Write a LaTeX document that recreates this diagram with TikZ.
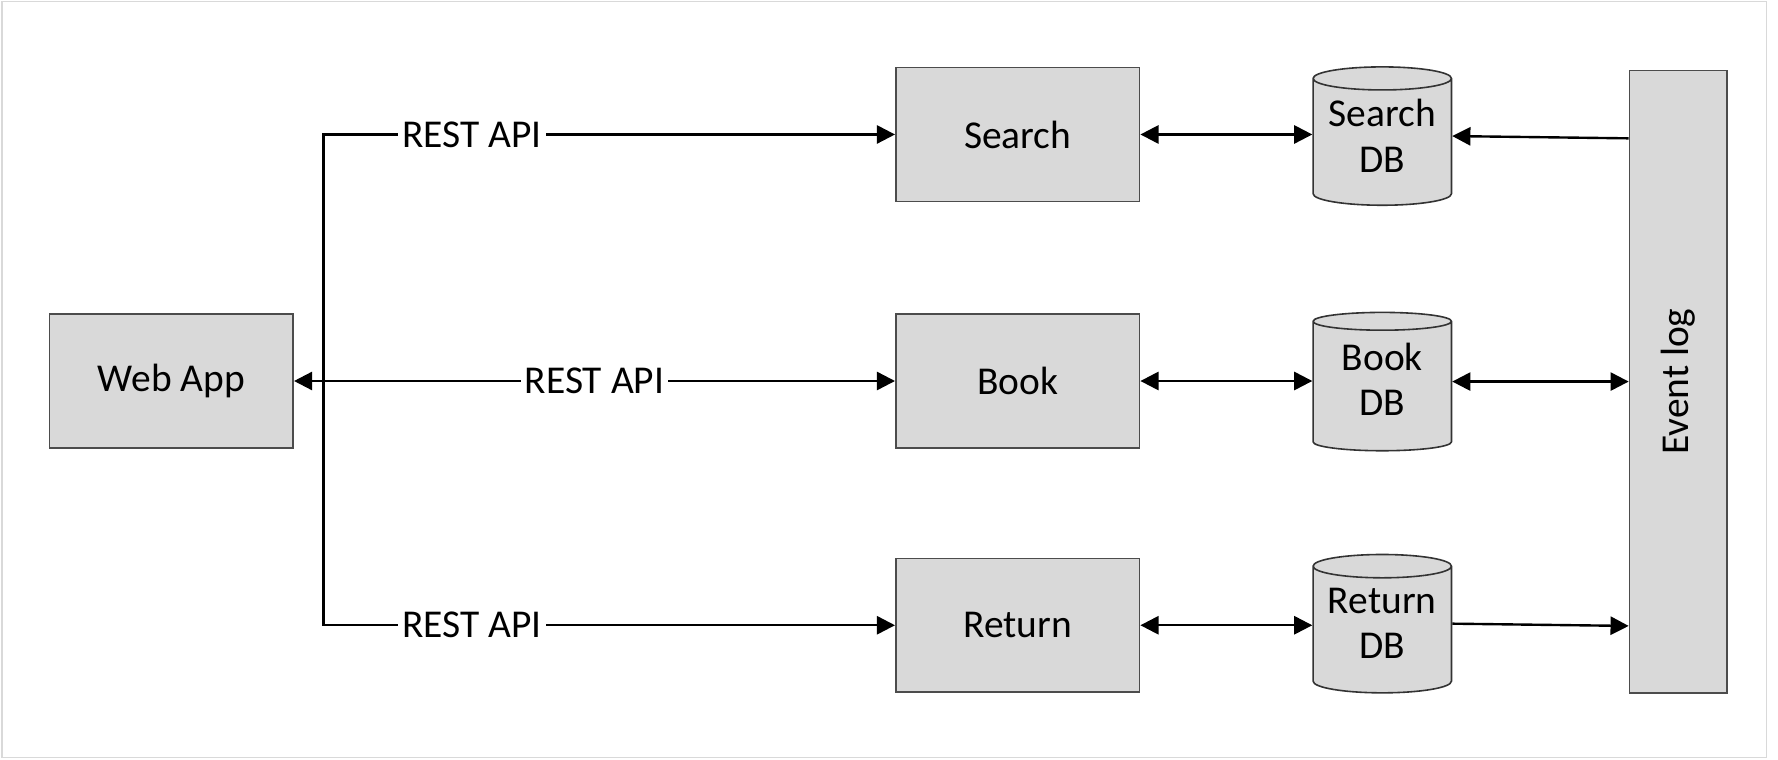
\documentclass[tikz,border=0pt]{standalone}
\usepackage{fontspec}
\setmainfont{Carlito}
\usetikzlibrary{positioning,shapes.geometric,arrows.meta}

\begin{document}
\begin{tikzpicture}[
    >={Triangle[length=1.6mm,width=1.6mm]},
    font=\fontsize{9.9}{11.4}\selectfont,
    box/.style={rectangle, draw=black!70, fill=black!15, minimum width=2.15cm, minimum height=1.18cm, text centered},
    db/.style={cylinder, shape border rotate=90, aspect=0.2, draw=black!80, fill=black!15, minimum width=1.22cm, minimum height=1.22cm, inner sep=1pt, text depth=0.15cm, align=center, anchor=shape center},
    link/.style={line width=0.6pt},
    api/.style={fill=white, inner sep=1pt}
]

% Page and frame
\useasboundingbox (0,0) rectangle (15.68,-6.70);
\draw[black!15, line width=0.4pt] (0.02,-0.015) rectangle (15.58,-6.68);

% Services
\node[box] (book) at (8.975,-3.36) {Book};
\node[box, above=0.98cm of book] (search) {Search};
\node[box, below=0.96cm of book] (return) {Return};

% Client
\node[box, left=5.30cm of book] (webapp) {Web App};

% Databases
\node[db] (searchdb) at (12.19,-1.20) {Search\\DB};
\node[db] (bookdb) at (12.19,-3.365) {Book\\DB};
\node[db] (returndb) at (12.19,-5.50) {Return\\DB};

% Event log
\node[box, minimum width=0.86cm, minimum height=5.49cm] (eventlog) at (14.80,-3.365) {\rotatebox{90}{Event log}};

% REST calls
\coordinate (fork) at ([xshift=0.26cm]webapp.east);
\draw[link,<->] (search.west) -- node[api, pos=0.74] {REST API} (fork |- search.west)
    -- (fork |- return.west) -- node[api, pos=0.26] {REST API} (return.west);
\draw[link,<->] (webapp.east) -- node[api] {REST API} (book.west);

% Services to databases
\draw[link,<->] (search.east) -- (search.east -| searchdb.west);
\draw[link,<->] (book.east) -- (book.east -| bookdb.west);
\draw[link,<->] (return.east) -- (return.east -| returndb.west);

% Databases and event log
\draw[link,->] ([yshift=-0.02cm]eventlog.west |- searchdb.shape center) -- (searchdb.east |- searchdb.shape center);
\draw[link,<->] (bookdb.east |- bookdb.shape center) -- (eventlog.west |- bookdb.shape center);
\draw[link,->] (returndb.east |- returndb.shape center) -- ([yshift=-0.02cm]eventlog.west |- returndb.shape center);

\end{tikzpicture}
\end{document}
